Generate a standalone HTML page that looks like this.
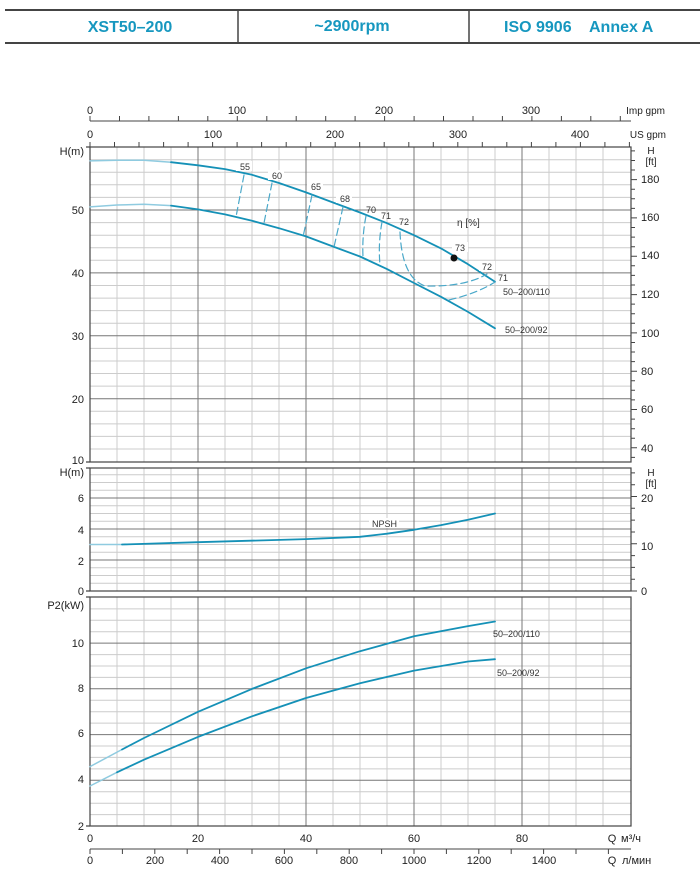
<!DOCTYPE html>
<html><head><meta charset="utf-8"><style>
html,body{margin:0;padding:0;background:#fff;}
svg{display:block;font-family:"Liberation Sans",sans-serif;}
</style></head><body>
<svg width="700" height="877" viewBox="0 0 700 877" xmlns="http://www.w3.org/2000/svg">
<rect width="700" height="877" fill="#fff"/>
<line x1="5" y1="10" x2="700" y2="10" stroke="#444" stroke-width="2"/>
<line x1="5" y1="43" x2="700" y2="43" stroke="#444" stroke-width="2"/>
<line x1="238" y1="10" x2="238" y2="43" stroke="#444" stroke-width="1.5"/>
<line x1="469" y1="10" x2="469" y2="43" stroke="#444" stroke-width="1.5"/>
<g fill="#1697bf" font-weight="bold" font-size="16">
<text x="130" y="32" text-anchor="middle">XST50–200</text>
<text x="352" y="31" text-anchor="middle">~2900rpm</text>
<text x="504" y="32">ISO 9906</text>
<text x="589" y="32">Annex A</text>
</g>

<g stroke="#ccc" stroke-width="1" fill="none">
<path d="M117,147V462M144,147V462M171,147V462M225,147V462M252,147V462M279,147V462M333,147V462M360,147V462M387,147V462M441,147V462M468,147V462M495,147V462M549,147V462M576,147V462M603,147V462"/>
<path d="M117,468V591M144,468V591M171,468V591M225,468V591M252,468V591M279,468V591M333,468V591M360,468V591M387,468V591M441,468V591M468,468V591M495,468V591M549,468V591M576,468V591M603,468V591"/>
<path d="M117,597V826M144,597V826M171,597V826M225,597V826M252,597V826M279,597V826M333,597V826M360,597V826M387,597V826M441,597V826M468,597V826M495,597V826M549,597V826M576,597V826M603,597V826"/>
<path d="M90,449H631M90,436.4H631M90,423.9H631M90,411.3H631M90,386.1H631M90,373.5H631M90,361H631M90,348.4H631M90,323.2H631M90,310.6H631M90,298.1H631M90,285.5H631M90,260.3H631M90,247.7H631M90,235.2H631M90,222.6H631M90,197.4H631M90,184.8H631M90,172.3H631M90,159.7H631"/>
<path d="M90,583.25H631M90,575.5H631M90,567.75H631M90,552.25H631M90,544.5H631M90,536.75H631M90,521.25H631M90,513.5H631M90,505.75H631M90,490.25H631M90,482.5H631M90,474.75H631"/>
<path d="M90,814.6H631M90,803.2H631M90,791.7H631M90,768.9H631M90,757.4H631M90,746H631M90,723.1H631M90,711.7H631M90,700.3H631M90,677.4H631M90,666H631M90,654.6H631M90,631.7H631M90,620.3H631M90,608.9H631"/>
</g>
<g stroke="#777" stroke-width="1" fill="none">
<path d="M198,147V462M306,147V462M414,147V462M522,147V462M198,468V591M306,468V591M414,468V591M522,468V591M198,597V826M306,597V826M414,597V826M522,597V826"/>
<path d="M90,398.7H631M90,335.8H631M90,272.9H631M90,210H631M90,560H631M90,529H631M90,498H631M90,780.3H631M90,734.6H631M90,688.8H631M90,643.1H631"/>
</g>
<g stroke="#444" stroke-width="1.2" fill="none">
<rect x="90" y="147" width="541" height="315"/>
<rect x="90" y="468" width="541" height="123"/>
<rect x="90" y="597" width="541" height="229"/>
<path d="M86,147H90M86,462H90M86,468H90M86,591H90M86,597H90M86,826H90"/>
</g>
<g stroke="#444" stroke-width="1" fill="none">
<path d="M90,121H631"/>
<path d="M90,121v-5M119.5,121v-5M148.9,121v-5M178.4,121v-5M207.8,121v-5M237.3,121v-5M266.8,121v-5M296.2,121v-5M325.7,121v-5M355.1,121v-5M384.6,121v-5M414.1,121v-5M443.5,121v-5M473,121v-5M502.4,121v-5M531.9,121v-5M561.4,121v-5M590.8,121v-5M620.3,121v-5"/>
<path d="M90,147v-5M114.5,147v-5M139,147v-5M163.6,147v-5M188.1,147v-5M212.6,147v-5M237.1,147v-5M261.6,147v-5M286.2,147v-5M310.7,147v-5M335.2,147v-5M359.7,147v-5M384.2,147v-5M408.8,147v-5M433.3,147v-5M457.8,147v-5M482.3,147v-5M506.8,147v-5M531.4,147v-5M555.9,147v-5M580.4,147v-5M604.9,147v-5M629.4,147v-5"/>
<path d="M90,849H631"/>
<path d="M90,849v5M122.4,849v5M154.8,849v5M187.2,849v5M219.6,849v5M252,849v5M284.4,849v5M316.8,849v5M349.2,849v5M381.6,849v5M414,849v5M446.4,849v5M478.8,849v5M511.2,849v5M543.6,849v5M576,849v5M608.4,849v5"/>
<path d="M631,457.4h4M631,447.8h6M631,438.2h4M631,428.7h4M631,419.1h4M631,409.5h6M631,399.9h4M631,390.3h4M631,380.8h4M631,371.2h6M631,361.6h4M631,352h4M631,342.5h4M631,332.9h6M631,323.3h4M631,313.7h4M631,304.1h4M631,294.6h6M631,285h4M631,275.4h4M631,265.8h4M631,256.2h6M631,246.7h4M631,237.1h4M631,227.5h4M631,217.9h6M631,208.4h4M631,198.8h4M631,189.2h4M631,179.6h6M631,170h4M631,160.5h4M631,150.9h4"/>
<path d="M631,591h6M631,579.2h4M631,567.4h4M631,555.6h4M631,543.8h6M631,532h4M631,520.1h4M631,508.3h4M631,496.5h6M631,484.7h4M631,472.9h4"/>
</g>

<g fill="none" stroke-linejoin="round" stroke-linecap="round">
<polyline stroke="#8fcbe0" stroke-width="1.5" points="90,160.9 117,160.3 144,160.3 171,162.2"/>
<polyline stroke="#1591b7" stroke-width="1.8" points="171,162.2 198,165.3 225,169.1 252,174.8 279,183 306,192.4 333,202.5 360,212.5 387,223.2 414,235.2 441,248.4 468,264.2 495,281.7"/>
<polyline stroke="#8fcbe0" stroke-width="1.5" points="90,206.9 117,205 144,204.3 171,205.6"/>
<polyline stroke="#1591b7" stroke-width="1.8" points="171,205.6 198,209.4 225,214.4 252,220.7 279,228.2 306,236.4 333,246.5 360,256.5 387,269.1 414,283 441,296.8 468,311.9 495,328.3"/>
<polyline stroke="#8fcbe0" stroke-width="1.5" points="90,544.5 122,544.5"/>
<polyline stroke="#1591b7" stroke-width="1.8" points="122,544.5 198,542.2 306,539.1 360,536.8 387,533.7 414,529.8 441,525.1 468,519.7 495,513.5"/>
<polyline stroke="#8fcbe0" stroke-width="1.5" points="90,766.6 122,749.5"/>
<polyline stroke="#1591b7" stroke-width="1.8" points="122,749.5 144,738 198,711.8 252,688.9 306,668.3 360,651.2 414,636.3 468,626.1 495,621.5"/>
<polyline stroke="#8fcbe0" stroke-width="1.5" points="90,786 117,772.3"/>
<polyline stroke="#1591b7" stroke-width="1.8" points="117,772.3 144,759.7 198,736.9 252,716.3 306,698 360,683.2 414,670.6 468,661.5 495,659.2"/>
<g stroke="#4aa8c9" stroke-width="1.2" stroke-dasharray="7,4">
<path d="M244,175L236,217M272,183L264,223M312,195L303,237M343,207L334,247"/>
<path d="M366,216Q362,236 363,257"/>
<path d="M382,222Q378,244 380,265"/>
<path d="M400,232Q402,278 425,286Q465,287 487,274"/>
<path d="M449,300Q478,293 495,282"/>
</g>
</g>
<circle cx="454" cy="258" r="3.5" fill="#111"/>

<g font-size="11" fill="#222">
<text x="90" y="114" text-anchor="middle">0</text><text x="237" y="114" text-anchor="middle">100</text><text x="384" y="114" text-anchor="middle">200</text><text x="531" y="114" text-anchor="middle">300</text><text x="665" y="114" text-anchor="end" font-size="10">Imp gpm</text>
<text x="90" y="138" text-anchor="middle">0</text><text x="213" y="138" text-anchor="middle">100</text><text x="335" y="138" text-anchor="middle">200</text><text x="458" y="138" text-anchor="middle">300</text><text x="580" y="138" text-anchor="middle">400</text><text x="666" y="138" text-anchor="end" font-size="10">US gpm</text>
<text x="84" y="155" text-anchor="end">H(m)</text>
<text x="84" y="214" text-anchor="end">50</text><text x="84" y="277" text-anchor="end">40</text><text x="84" y="340" text-anchor="end">30</text><text x="84" y="403" text-anchor="end">20</text><text x="84" y="464" text-anchor="end">10</text>
<text x="651" y="154" text-anchor="middle" font-size="10">H</text><text x="651" y="165" text-anchor="middle" font-size="10">[ft]</text>
<text x="641" y="183">180</text><text x="641" y="221">160</text><text x="641" y="259">140</text><text x="641" y="298">120</text><text x="641" y="337">100</text><text x="641" y="375">80</text><text x="641" y="413">60</text><text x="641" y="452">40</text>
<text x="84" y="476" text-anchor="end">H(m)</text>
<text x="84" y="502" text-anchor="end">6</text><text x="84" y="534" text-anchor="end">4</text><text x="84" y="565" text-anchor="end">2</text><text x="84" y="595" text-anchor="end">0</text>
<text x="651" y="476" text-anchor="middle" font-size="10">H</text><text x="651" y="487" text-anchor="middle" font-size="10">[ft]</text>
<text x="641" y="502">20</text><text x="641" y="550">10</text><text x="641" y="595">0</text>
<text x="84" y="609" text-anchor="end">P2(kW)</text>
<text x="84" y="647" text-anchor="end">10</text><text x="84" y="692" text-anchor="end">8</text><text x="84" y="737" text-anchor="end">6</text><text x="84" y="783" text-anchor="end">4</text><text x="84" y="830" text-anchor="end">2</text>
<text x="90" y="842" text-anchor="middle">0</text><text x="198" y="842" text-anchor="middle">20</text><text x="306" y="842" text-anchor="middle">40</text><text x="414" y="842" text-anchor="middle">60</text><text x="522" y="842" text-anchor="middle">80</text><text x="612" y="842" text-anchor="middle">Q</text><text x="621" y="842">м³/ч</text>
<text x="90" y="864" text-anchor="middle">0</text><text x="155" y="864" text-anchor="middle">200</text><text x="220" y="864" text-anchor="middle">400</text><text x="284" y="864" text-anchor="middle">600</text><text x="349" y="864" text-anchor="middle">800</text><text x="414" y="864" text-anchor="middle">1000</text><text x="479" y="864" text-anchor="middle">1200</text><text x="544" y="864" text-anchor="middle">1400</text><text x="612" y="864" text-anchor="middle">Q</text><text x="622" y="864">л/мин</text>
</g>
<g font-size="9" fill="#333">
<rect x="236" y="161" width="16" height="10" fill="#fff"/><rect x="268" y="170" width="16" height="10" fill="#fff"/><rect x="307" y="181" width="16" height="10" fill="#fff"/><rect x="336" y="193" width="16" height="10" fill="#fff"/><rect x="452" y="242" width="16" height="10" fill="#fff"/><rect x="479" y="261" width="16" height="10" fill="#fff"/>
<text x="240" y="170">55</text><text x="272" y="179">60</text><text x="311" y="190">65</text><text x="340" y="202">68</text><text x="366" y="213">70</text><text x="381" y="219">71</text><text x="399" y="225">72</text>
<text x="455" y="251">73</text><text x="482" y="270">72</text><text x="498" y="281">71</text>
<text x="503" y="295">50–200/110</text><text x="505" y="333">50–200/92</text>
<rect x="369" y="518" width="30" height="10" fill="#fff"/>
<text x="372" y="527">NPSH</text>
<text x="493" y="637">50–200/110</text><text x="497" y="676">50–200/92</text>
<text x="457" y="226" font-size="10">η [%]</text>
</g>
</svg>
</body></html>
